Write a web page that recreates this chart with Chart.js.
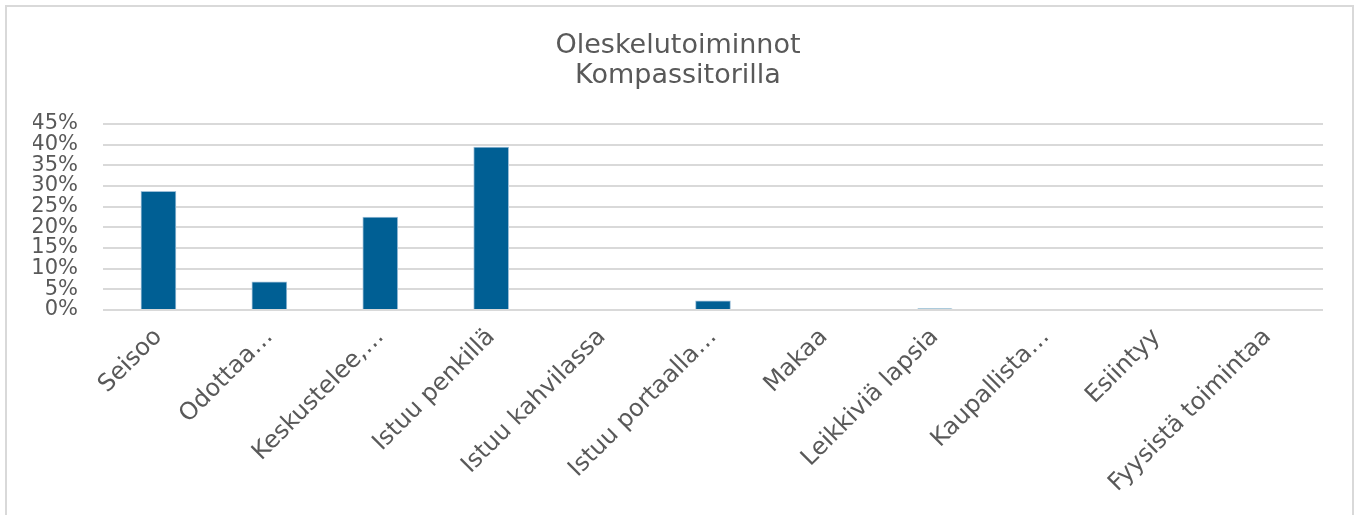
<!DOCTYPE html>
<html>
<head>
<meta charset="utf-8">
<script src="https://cdn.jsdelivr.net/npm/chart.js@4"></script>
<style>
  body { margin: 0; background: #fff; }
  #wrap {
    position: absolute; left: 5px; top: 5px;
    width: 1345px; height: 515px;
    border-left: 2px solid #d9d9d9; border-top: 2px solid #d9d9d9; border-right: 2px solid #d9d9d9;
  }
</style>
</head>
<body>
<div id="wrap"><canvas id="oleskelu" width="1345" height="508"></canvas></div>
<script>
const categories = ['Seisoo', 'Odottaa…', 'Keskustelee,…', 'Istuu penkillä', 'Istuu kahvilassa',
  'Istuu portaalla…', 'Makaa', 'Leikkiviä lapsia', 'Kaupallista…', 'Esiintyy', 'Fyysistä toimintaa'];
const shares = [0.287, 0.068, 0.225, 0.394, 0, 0.022, 0, 0.003, 0, 0, 0];
const titleLines = ['Oleskelutoiminnot', 'Kompassitorilla'];

const textColor = '#595959';
const fontFam = '"DejaVu Sans", Verdana, sans-serif';

const data = {
  labels: categories,
  datasets: [{
    label: 'Osuus',
    data: shares,
    backgroundColor: '#005f94',
    borderColor: '#9dbfd8',
    borderWidth: 1,
    barThickness: 35
  }]
};

const config = {
  type: 'bar',
  data: data,
  options: {
    responsive: false,
    animation: false,
    // left/right padding also centres the title where the reference has it
    layout: { padding: { left: 26, right: 29, top: 0, bottom: 0 } },
    plugins: {
      legend: { display: false },
      tooltip: { enabled: false },
      title: {
        display: true,
        text: titleLines,
        color: textColor,
        font: { family: fontFam, size: 27, weight: 'normal', lineHeight: 1.11 },
        padding: { top: 24, bottom: 33 }
      }
    },
    scales: {
      y: {
        min: 0,
        max: 0.45,
        ticks: {
          stepSize: 0.05,
          autoSkip: false,
          color: textColor,
          padding: 25,
          font: { family: fontFam, size: 21, lineHeight: 0.9 },
          callback: function(v) { return Math.round(v * 100) + '%'; }
        },
        grid: { color: '#d9d9d9', lineWidth: 2, drawTicks: false },
        border: { display: false },
        afterFit: function(scale) { scale.width = 70; }
      },
      x: {
        ticks: {
          color: textColor,
          minRotation: 45,
          maxRotation: 45,
          autoSkip: false,
          padding: 13,
          font: { family: fontFam, size: 24 }
        },
        grid: { display: false, drawTicks: false },
        border: { display: false },
        afterFit: function(scale) { scale.height = 205; }
      }
    }
  }
};

const ctx = document.getElementById('oleskelu').getContext('2d');
const chart = new Chart(ctx, config);
</script>
</body>
</html>
